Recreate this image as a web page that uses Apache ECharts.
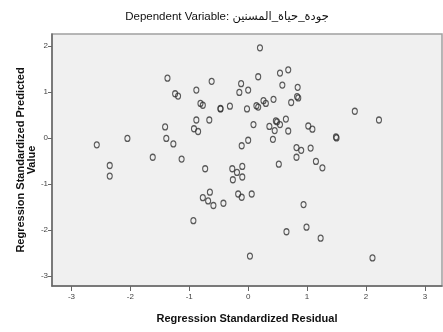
<!DOCTYPE html>
<html>
<head>
<meta charset="utf-8">
<script src="https://cdn.jsdelivr.net/npm/echarts@6/dist/echarts.min.js"></script>
<style>
    html, body { margin: 0; padding: 0; background: #fff; }
    #chart { width: 443px; height: 332px; }
</style>
</head>
<body>
<div id="chart"></div>
<script>
    // values (x = standardized residual, y = standardized predicted)
    const residual = [
        -1.37, -1.24, -1.19, -1.41, -2.05, -2.57, -1.39, -1.27, -1.62, -1.13,
        0.20, 0.68, 0.54, 0.17, -0.62, -0.12, 0.58, 0.84, -0.88, 0.00,
        -0.15, 0.83, 0.85, -0.81, -0.77, 0.26, 0.43, 0.73, 0.30, 0.14,
        0.17, -0.47, -0.47, -0.31, -0.02, -0.88, -0.66, -0.92, -0.85, 0.09,
        0.47, 0.49, 0.64, 0.54, 0.36, 0.45, 0.68, 1.02, 1.09, 0.42,
        0.00, -0.11, 0.82, 0.90, 1.06, 0.82, 1.15, 1.81, 2.22, 1.49,
        1.50, -2.35, -2.35, -0.93, -0.73, -0.27, -0.10, -0.19, -0.26, -0.10,
        0.52, 1.26, -0.65, -0.77, -0.68, -0.59, -0.42, -0.17, -0.11, 0.06,
        0.94, 0.65, 0.99, 1.23, 0.03, 2.11
    ]
    const predicted = [
        1.30, 0.96, 0.91, 0.24, -0.01, -0.15, -0.01, -0.13, -0.42, -0.46,
        1.96, 1.48, 1.41, 1.33, 1.23, 1.18, 1.15, 1.10, 1.04, 1.04,
        0.99, 0.90, 0.87, 0.75, 0.71, 0.81, 0.84, 0.77, 0.75, 0.70,
        0.67, 0.64, 0.63, 0.69, 0.63, 0.39, 0.39, 0.20, 0.14, 0.29,
        0.37, 0.35, 0.41, 0.29, 0.25, 0.16, 0.15, 0.26, 0.19, -0.03,
        -0.05, -0.17, -0.21, -0.27, -0.22, -0.42, -0.51, 0.58, 0.39, 0.02,
        0.00, -0.60, -0.83, -1.80, -0.67, -0.67, -0.62, -0.75, -0.91, -0.85,
        -0.57, -0.65, -1.18, -1.30, -1.37, -1.47, -1.42, -1.22, -1.29, -1.22,
        -1.45, -2.04, -1.94, -2.18, -2.57, -2.61
    ]
    const xTicks = [-3, -2, -1, 0, 1, 2, 3]
    const yTicks = [-3, -2, -1, 0, 1, 2]

    const titleText = 'Dependent Variable: جودة_حياة_المسنين'
    const xName = 'Regression Standardized Residual'
    const yName = 'Regression Standardized Predicted\nValue'

    const points = residual.map((r, i) => [r, predicted[i]])

    const myChart = echarts.init(document.getElementById('chart'), null, { renderer: 'canvas' })

    const tickLabel = {
        fontFamily: 'Liberation Sans, Arial, sans-serif',
        fontSize: 8,
        color: '#444'
    }

    myChart.setOption({
        animation: false,
        backgroundColor: '#fff',
        title: {
            text: titleText,
            left: 222,
            top: 6,
            textAlign: 'center',
            textStyle: {
                fontFamily: 'Liberation Sans, DejaVu Sans, sans-serif',
                fontSize: 11.5,
                fontWeight: 'normal',
                color: '#111'
            }
        },
        grid: {
            left: 52,
            right: 1,
            top: 34,
            bottom: 46,
            show: true,
            backgroundColor: '#f0f0f0',
            borderColor: '#a0a0a0',
            borderWidth: 1.5
        },
        xAxis: {
            type: 'value',
            min: -3.33,
            max: 3.29,
            name: xName,
            nameLocation: 'middle',
            nameGap: 27,
            nameMoveOverlap: false,
            nameTextStyle: {
                fontFamily: 'Liberation Sans, Arial, sans-serif',
                fontSize: 11,
                fontWeight: 'bold',
                color: '#111'
            },
            axisLine: { show: true, onZero: false, lineStyle: { color: '#666', width: 1.5 } },
            axisTick: { show: true, length: 5, customValues: xTicks, lineStyle: { color: '#666' } },
            axisLabel: { customValues: xTicks, margin: 7, ...tickLabel },
            splitLine: { show: false }
        },
        yAxis: {
            type: 'value',
            min: -3.22,
            max: 2.26,
            name: yName,
            nameLocation: 'middle',
            nameRotate: 90,
            nameGap: 15,
            nameMoveOverlap: false,
            nameTextStyle: {
                fontFamily: 'Liberation Sans, Arial, sans-serif',
                fontSize: 11,
                fontWeight: 'bold',
                color: '#111',
                lineHeight: 11
            },
            axisLine: { show: true, onZero: false, lineStyle: { color: '#666', width: 1.5 } },
            axisTick: { show: true, length: 4, customValues: yTicks, lineStyle: { color: '#666' } },
            axisLabel: { customValues: yTicks, margin: 4, ...tickLabel },
            splitLine: { show: false }
        },
        series: [{
            type: 'scatter',
            data: points,
            symbol: 'circle',
            symbolSize: [5, 6],
            itemStyle: {
                color: 'rgba(0,0,0,0)',
                borderColor: '#333',
                borderWidth: 1.2
            }
        }]
    })
</script>
</body>
</html>
